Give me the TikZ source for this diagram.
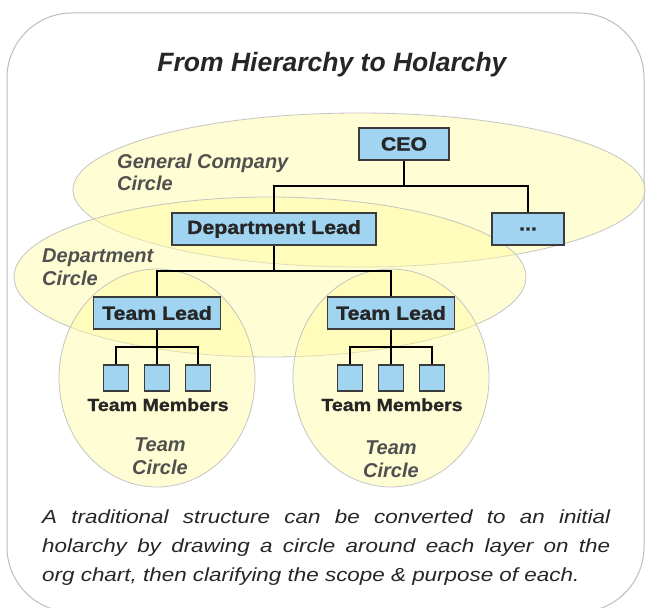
\documentclass[tikz,border=0pt]{standalone}
\usepackage{fontspec}
\setmainfont{Liberation Sans}
\newfontfamily\boxfont{Liberation Sans}[FakeStretch=1.12, FakeBold=1.2]
\newfontfamily\notefont{Liberation Sans}[FakeStretch=1.18]
\usetikzlibrary{positioning}

\definecolor{circlefill}{RGB}{255,252,160}
\definecolor{circleline}{RGB}{196,196,196}
\definecolor{boxfill}{RGB}{160,212,240}
\definecolor{boxline}{RGB}{60,60,60}
\definecolor{labelgray}{RGB}{80,80,80}
\definecolor{textgray}{RGB}{38,38,38}
\definecolor{framegray}{RGB}{190,190,190}

\tikzset{
    circ/.style={draw=circleline, line width=0.8pt, fill=circlefill, fill opacity=0.45},
    rolebox/.style={draw=boxline, line width=1.1pt, fill=boxfill, inner sep=0pt, minimum height=32pt,
        text=textgray, font=\boxfont\bfseries\fontsize{19}{22}\selectfont},
    memberbox/.style={draw=boxline, line width=1.1pt, fill=boxfill, inner sep=0pt,
        minimum width=25pt, minimum height=26pt},
    circlelabel/.style={inner sep=0pt, text=labelgray, font=\bfseries\itshape\fontsize{20}{23}\selectfont},
    memberlabel/.style={inner sep=0pt, text=textgray, font=\boxfont\bfseries\fontsize{17.5}{20}\selectfont},
    link/.style={line width=2.4pt},
    sublink/.style={line width=2pt}
}

\begin{document}
\begin{tikzpicture}[x=1pt, y=-1pt]

\useasboundingbox (0,0) rectangle (647,607);
\clip (0,0) rectangle (647,607);
\fill[white] (0,0) rectangle (647,607);

\draw[framegray, line width=1pt, rounded corners=65pt] (7,13) rectangle (644,612);

\node[anchor=base, inner sep=0pt, text=textgray, font=\bfseries\itshape\fontsize{26.5}{30}\selectfont] (title) at (332,72) {From Hierarchy to Holarchy};

\draw[circ] (359,190) ellipse [x radius=286, y radius=77];
\draw[circ] (270,277) ellipse [x radius=256, y radius=80];
\draw[circ] (157,378) ellipse [x radius=98, y radius=109];
\draw[circ] (391,378) ellipse [x radius=98, y radius=109];

\node[circlelabel, anchor=base west] (gcA) at (117,168) {General Company};
\node[circlelabel, anchor=base west] (gcB) at (117,190) {Circle};
\node[circlelabel, anchor=base west] (dcA) at (42,262) {Department};
\node[circlelabel, anchor=base west] (dcB) at (42,285) {Circle};
\node[circlelabel, anchor=base] (tcLA) at (160,451) {Team};
\node[circlelabel, anchor=base] (tcLB) at (160,474) {Circle};
\node[circlelabel, anchor=base] (tcRA) at (391,454) {Team};
\node[circlelabel, anchor=base] (tcRB) at (391,477) {Circle};

\node[rolebox, minimum width=90pt] (ceo) at (404,144) {CEO};
\node[rolebox, minimum width=204pt] (dept) at (274,229) {Department Lead};
\node[rolebox, minimum width=72pt] (other) at (528,229) {...};
\node[rolebox, minimum width=127pt] (leadL) at (157,313) {Team Lead};
\node[rolebox, minimum width=127pt] (leadR) at (391,313) {Team Lead};

\coordinate (ceobar) at (404,186);
\coordinate (deptbar) at (274,271);
\draw[link] (ceo.south) -- (ceobar);
\draw[link] (dept.north) |- (ceobar) -| (other.north);
\draw[link] (dept.south) -- (deptbar);
\draw[link] (leadL.north) |- (deptbar) -| (leadR.north);

\foreach \s/\x in {L/157, R/391}
{
    \node[memberbox] (m\s1) at (\x-41,378) {};
    \node[memberbox] (m\s2) at (\x,378) {};
    \node[memberbox] (m\s3) at (\x+41,378) {};
    \coordinate (bar\s) at (\x,347);
    \draw[sublink] (lead\s.south) -- (m\s2.north);
    \draw[sublink] (m\s1.north) |- (bar\s) -| (m\s3.north);
    \node[memberlabel, anchor=base] (members\s) at (\x+1,411) {Team Members};
}

\node[anchor=north west, inner sep=0pt, text width=568pt, align=justify, text=textgray,
    font=\notefont\itshape\fontsize{19}{29}\selectfont] (note) at (42,510)
    {A traditional structure can be converted to an initial\linebreak
    holarchy by drawing a circle around each layer on the\linebreak
    org chart, then clarifying the scope \& purpose of each.};

\end{tikzpicture}
\end{document}
